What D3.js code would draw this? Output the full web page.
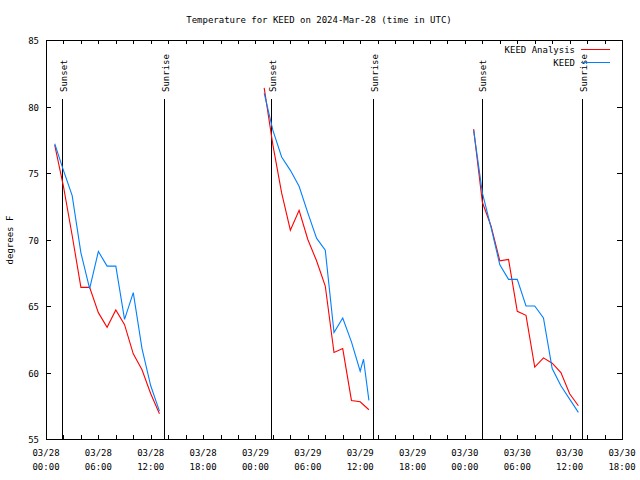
<!DOCTYPE html>
<html>
<head>
<meta charset="utf-8">
<script src="https://cdn.jsdelivr.net/npm/d3@7"></script>
<style>
  body { margin: 0; background: #fff; }
  svg { display: block; font-family: "DejaVu Sans Mono", monospace; font-size: 9px; }
</style>
</head>
<body>
<div id="chart"></div>
<script>
// Days shown and the hourly analysis times
const days = ["2024-03-28", "2024-03-29", "2024-03-30"];
const analysisTimes = ["01:00", "02:00", "03:00", "04:00", "05:00", "06:00", "07:00",
  "08:00", "09:00", "10:00", "11:00", "12:00", "13:00"];

// KEED Analysis (red), one row per day
const analysisTemps = [
  [77.1, 74.0, 70.3, 66.4, 66.4, 64.5, 63.4, 64.7, 63.6, 61.4, 60.2, 58.4, 56.9],
  [81.4, 77.1, 73.5, 70.7, 72.2, 70.0, 68.4, 66.5, 61.5, 61.8, 57.9, 57.8, 57.2],
  [78.3, 72.8, 71.0, 68.4, 68.5, 64.6, 64.3, 60.4, 61.1, 60.7, 60.0, 58.4, 57.5]
];

// KEED observations (blue), one row per day
const obsTimes = [
  ["01:00", "02:00", "03:00", "04:00", "05:00", "06:00", "07:00", "08:00", "09:00", "10:00", "11:00", "12:00", "13:00"],
  ["01:00", "02:00", "03:00", "04:00", "05:00", "06:00", "07:00", "08:00", "09:00", "10:00", "11:00", "12:00", "12:23", "13:00"],
  ["01:00", "02:00", "03:00", "04:00", "05:00", "06:00", "07:00", "08:00", "09:00", "10:00", "11:00", "12:00", "13:00"]
];
const obsTemps = [
  [77.2, 75.2, 73.3, 69.0, 66.3, 69.1, 68.0, 68.0, 64.0, 66.0, 61.8, 59.0, 57.1],
  [81.0, 78.2, 76.2, 75.2, 74.0, 72.0, 70.1, 69.2, 63.0, 64.1, 62.3, 60.1, 61.0, 57.9],
  [78.2, 73.5, 70.9, 68.1, 67.0, 67.0, 65.0, 65.0, 64.1, 60.3, 59.0, 58.0, 57.0]
];

// Sun events (UTC)
const sunsetTimes = ["2024-03-28T01:50Z", "2024-03-29T01:48Z", "2024-03-30T01:57Z"];
const sunriseTimes = ["2024-03-28T13:33Z", "2024-03-29T13:30Z", "2024-03-30T13:27Z"];

const yTicks = [55, 60, 65, 70, 75, 80, 85];
const seriesNames = ["KEED Analysis", "KEED"];
const seriesColors = ["#ff0000", "#0080ff"];

const width = 640, height = 480;
const margin = { top: 40, right: 18, bottom: 41, left: 46 };

const svg = d3.select("#chart").append("svg")
  .attr("width", width)
  .attr("height", height);

const x = d3.scaleUtc()
  .domain([new Date("2024-03-28T00:00Z"), new Date("2024-03-30T18:00Z")])
  .range([margin.left, width - margin.right]);

const y = d3.scaleLinear()
  .domain([55, 85])
  .range([height - margin.bottom, margin.top]);

const x0 = margin.left, x1 = width - margin.right;
const y0 = height - margin.bottom, y1 = margin.top;

// ticks every 2 hours, labels every 6
const xTicks = d3.utcHour.every(2).range(x.domain()[0], d3.utcHour.offset(x.domain()[1], 1));
const g = svg.append("g").attr("shape-rendering", "crispEdges");

g.selectAll(".xt").data(xTicks).join("path")
  .attr("d", d => `M${Math.round(x(d)) + 0.5},${y0}v-4M${Math.round(x(d)) + 0.5},${y1}v4`)
  .attr("stroke", "#000");

g.selectAll(".yt").data(yTicks).join("path")
  .attr("d", d => `M${x0},${Math.round(y(d)) + 0.5}h5M${x1},${Math.round(y(d)) + 0.5}h-5`)
  .attr("stroke", "#000");

const labelTicks = xTicks.filter(d => d.getUTCHours() % 6 === 0);
const fmtDate = d3.utcFormat("%m/%d"), fmtTime = d3.utcFormat("%H:%M");
const xl = svg.selectAll(".xl").data(labelTicks).join("text")
  .attr("text-anchor", "middle")
  .attr("x", d => x(d));
xl.append("tspan").attr("x", d => x(d)).attr("y", y0 + 17).text(fmtDate);
xl.append("tspan").attr("x", d => x(d)).attr("y", y0 + 31).text(fmtTime);

svg.selectAll(".yl").data(yTicks).join("text")
  .attr("text-anchor", "end")
  .attr("x", x0 - 7)
  .attr("y", d => y(d) + 4)
  .text(d => d);

// sunset / sunrise markers
const events = sunsetTimes.map(t => ({ t: new Date(t), name: "Sunset" }))
  .concat(sunriseTimes.map(t => ({ t: new Date(t), name: "Sunrise" })));
g.selectAll(".ev").data(events).join("line")
  .attr("x1", d => Math.round(x(d.t)) + 0.5)
  .attr("x2", d => Math.round(x(d.t)) + 0.5)
  .attr("y1", 99).attr("y2", y0)
  .attr("stroke", "#000");
svg.selectAll(".evl").data(events).join("text")
  .attr("transform", d => `translate(${x(d.t) + 4.5},92) rotate(-90)`)
  .text(d => d.name);

// data lines
const line = d3.line().x(d => x(d.t)).y(d => y(d.v));
const segs = [];
days.forEach((day, i) => {
  segs.push({ s: 0, pts: analysisTimes.map((t, j) => ({ t: new Date(`${day}T${t}Z`), v: analysisTemps[i][j] })) });
});
days.forEach((day, i) => {
  segs.push({ s: 1, pts: obsTimes[i].map((t, j) => ({ t: new Date(`${day}T${t}Z`), v: obsTemps[i][j] })) });
});
svg.selectAll(".ln").data(segs).join("path")
  .attr("d", d => line(d.pts))
  .attr("fill", "none")
  .attr("stroke", d => seriesColors[d.s])
  .attr("stroke-width", 1.1);

// frame
g.append("rect")
  .attr("x", x0 + 0.5).attr("y", y1 + 0.5)
  .attr("width", x1 - x0).attr("height", y0 - y1)
  .attr("fill", "none").attr("stroke", "#000");

// legend
seriesNames.forEach((name, i) => {
  const ly = 49 + i * 13;
  svg.append("text").attr("x", 575).attr("y", ly + 4).attr("text-anchor", "end").text(name);
  svg.append("line").attr("x1", 581).attr("x2", 610).attr("y1", ly + 0.5).attr("y2", ly + 0.5)
    .attr("stroke", seriesColors[i]).attr("shape-rendering", "crispEdges");
});

// title and axis label
svg.append("text").attr("x", 319).attr("y", 23).attr("text-anchor", "middle")
  .text("Temperature for KEED on 2024-Mar-28 (time in UTC)");
svg.append("text").attr("transform", `translate(13,240) rotate(-90)`).attr("text-anchor", "middle")
  .text("degrees F");
</script>
</body>
</html>
